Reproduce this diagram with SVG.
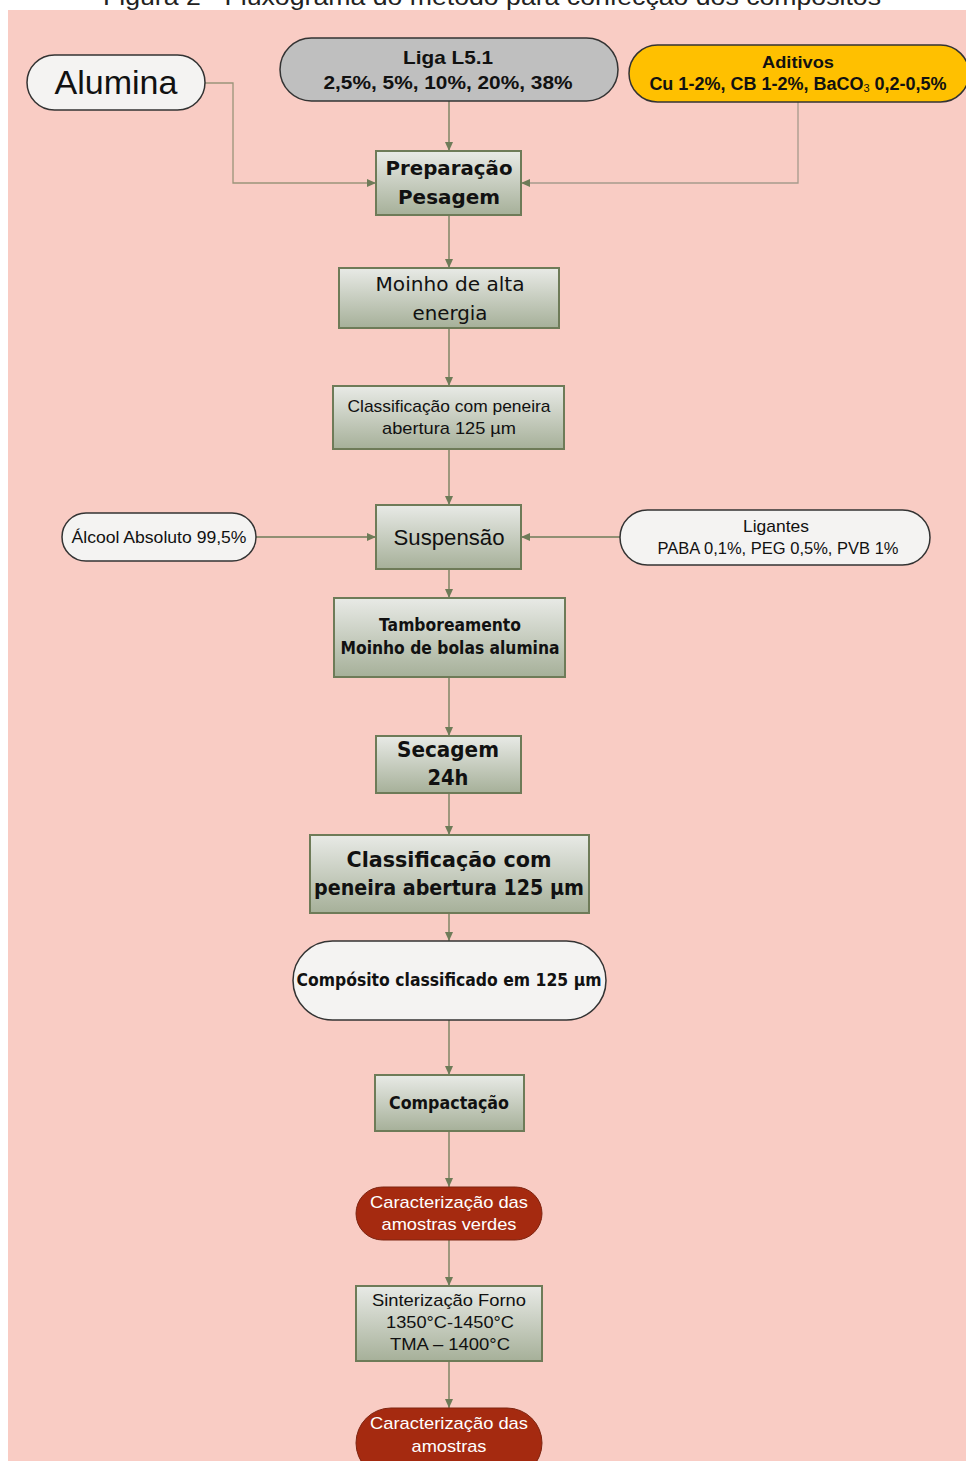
<svg xmlns="http://www.w3.org/2000/svg" width="966" height="1461" viewBox="0 0 966 1461">
<defs>
<style>
.bg{fill:#F9CCC4}
.box{fill:url(#g);stroke:#6E7B58;stroke-width:2}
.pill{fill:#F4F3F2;stroke:#333;stroke-width:1.5}
.red{fill:#A52A10;stroke:#7E2410;stroke-width:1}
.t{font-family:"Liberation Sans",Arial,sans-serif;fill:#111;text-anchor:middle;dominant-baseline:central}
.n{font-family:"Liberation Sans Narrow","Liberation Sans",Arial,sans-serif}
.v{font-family:"DejaVu Sans",Verdana,sans-serif}
.b{font-weight:bold}
.w{fill:#fff}
.c{fill:none;stroke:#6E7B58;stroke-width:1.3}
</style>
<linearGradient id="g" x1="0" y1="0" x2="0" y2="1">
<stop offset="0" stop-color="#E8EAE6"/>
<stop offset="1" stop-color="#A6B099"/>
</linearGradient>
<marker id="a" markerWidth="10" markerHeight="10" refX="9" refY="5" orient="auto" markerUnits="userSpaceOnUse">
<path d="M0,1 L9,5 L0,9 Z" fill="#6E7B58"/>
</marker>
</defs>
<rect x="0" y="0" width="966" height="1461" fill="#fff"/>
<text class="t" x="492" y="5" style="dominant-baseline:alphabetic;font-size:24px;fill:#222" textLength="778" lengthAdjust="spacingAndGlyphs">Figura 2 - Fluxograma do método para confecção dos compósitos</text>
<rect class="bg" x="8" y="10" width="958" height="1451"/>

<g id="connectors">
<path class="c" d="M205,83 H233 V183 H376" style="stroke:#9A9479" marker-end="url(#a)"/>
<path class="c" d="M449,101 V151" marker-end="url(#a)"/>
<path class="c" d="M798,101 V183 H521" style="stroke:#A69A8C" marker-end="url(#a)"/>
<path class="c" d="M449,215 V268" marker-end="url(#a)"/>
<path class="c" d="M449,328 V386" marker-end="url(#a)"/>
<path class="c" d="M449,449 V505" marker-end="url(#a)"/>
<path class="c" d="M256,537 H376" marker-end="url(#a)"/>
<path class="c" d="M620,537 H521" marker-end="url(#a)"/>
<path class="c" d="M449,569 V598" marker-end="url(#a)"/>
<path class="c" d="M449,677 V736" marker-end="url(#a)"/>
<path class="c" d="M449,793 V835" marker-end="url(#a)"/>
<path class="c" d="M449,913 V941" marker-end="url(#a)"/>
<path class="c" d="M449,1020 V1075" marker-end="url(#a)"/>
<path class="c" d="M449,1131 V1187" marker-end="url(#a)"/>
<path class="c" d="M449,1240 V1286" marker-end="url(#a)"/>
<path class="c" d="M449,1361 V1408" marker-end="url(#a)"/>
</g>

<g id="alumina">
<rect class="pill" x="27" y="55" width="178" height="55" rx="27.5"/>
<text class="t" x="116" y="82" style="font-size:33px" textLength="123" lengthAdjust="spacingAndGlyphs">Alumina</text>
</g>
<g id="liga">
<rect x="280" y="38" width="338" height="63" rx="31.5" fill="#BFBFBF" stroke="#333" stroke-width="1.5"/>
<text class="t n b" x="448" y="57" style="font-size:19px" textLength="90" lengthAdjust="spacingAndGlyphs">Liga L5.1</text>
<text class="t n b" x="448" y="82" style="font-size:19px" textLength="249" lengthAdjust="spacingAndGlyphs">2,5%, 5%, 10%, 20%, 38%</text>
</g>
<g id="aditivos">
<rect x="629" y="45" width="340" height="57" rx="28.5" fill="#FFC000" stroke="#333" stroke-width="1.5"/>
<text class="t b" x="798" y="62" style="font-size:17px" textLength="72" lengthAdjust="spacingAndGlyphs">Aditivos</text>
<text class="t b" x="798" y="84" style="font-size:18px">Cu 1-2%, CB 1-2%, BaCO<tspan style="font-size:11px;font-weight:normal" dy="4">3</tspan><tspan dy="-4"> 0,2-0,5%</tspan></text>
</g>
<g id="preparacao">
<rect class="box" x="376" y="151" width="145" height="64"/>
<text class="t v b" x="449" y="168" style="font-size:20px" textLength="127" lengthAdjust="spacingAndGlyphs">Preparação</text>
<text class="t v b" x="449" y="197" style="font-size:20px" textLength="102" lengthAdjust="spacingAndGlyphs">Pesagem</text>
</g>
<g id="moinho">
<rect class="box" x="339" y="268" width="220" height="60"/>
<text class="t v" x="450" y="284" style="font-size:19px" textLength="149" lengthAdjust="spacingAndGlyphs">Moinho de alta</text>
<text class="t v" x="450" y="313" style="font-size:19px" textLength="75" lengthAdjust="spacingAndGlyphs">energia</text>
</g>
<g id="classificacao1">
<rect class="box" x="333" y="386" width="231" height="63"/>
<text class="t n" x="449" y="406" style="font-size:17px" textLength="203" lengthAdjust="spacingAndGlyphs">Classificação com peneira</text>
<text class="t n" x="449" y="428" style="font-size:17px" textLength="134" lengthAdjust="spacingAndGlyphs">abertura 125 µm</text>
</g>
<g id="suspensao">
<rect class="box" x="376" y="505" width="145" height="64"/>
<text class="t" x="449" y="537" style="font-size:22px" textLength="111" lengthAdjust="spacingAndGlyphs">Suspensão</text>
</g>
<g id="alcool">
<rect class="pill" x="62" y="513" width="194" height="48" rx="24"/>
<text class="t n" x="159" y="537" style="font-size:17px" textLength="175" lengthAdjust="spacingAndGlyphs">Álcool Absoluto 99,5%</text>
</g>
<g id="ligantes">
<rect class="pill" x="620" y="510" width="310" height="55" rx="27.5"/>
<text class="t n" x="776" y="526" style="font-size:17px" textLength="66" lengthAdjust="spacingAndGlyphs">Ligantes</text>
<text class="t n" x="778" y="548" style="font-size:17px" textLength="241" lengthAdjust="spacingAndGlyphs">PABA 0,1%, PEG 0,5%, PVB 1%</text>
</g>
<g id="tamboreamento">
<rect class="box" x="334" y="598" width="231" height="79"/>
<text class="t v b" x="450" y="625" style="font-size:17px" textLength="142" lengthAdjust="spacingAndGlyphs">Tamboreamento</text>
<text class="t v b" x="450" y="648" style="font-size:17px" textLength="219" lengthAdjust="spacingAndGlyphs">Moinho de bolas alumina</text>
</g>
<g id="secagem">
<rect class="box" x="376" y="736" width="145" height="57"/>
<text class="t v b" x="448" y="750" style="font-size:21px" textLength="102" lengthAdjust="spacingAndGlyphs">Secagem</text>
<text class="t v b" x="448" y="778" style="font-size:21px" textLength="41" lengthAdjust="spacingAndGlyphs">24h</text>
</g>
<g id="classificacao2">
<rect class="box" x="310" y="835" width="279" height="78"/>
<text class="t v b" x="449" y="860" style="font-size:21px" textLength="205" lengthAdjust="spacingAndGlyphs">Classificação com</text>
<text class="t v b" x="449" y="888" style="font-size:21px" textLength="270" lengthAdjust="spacingAndGlyphs">peneira abertura 125 µm</text>
</g>
<g id="composito">
<rect class="pill" x="293" y="941" width="313" height="79" rx="39.5"/>
<text class="t v b" x="449" y="980" style="font-size:17px" textLength="305" lengthAdjust="spacingAndGlyphs">Compósito classificado em 125 µm</text>
</g>
<g id="compactacao">
<rect class="box" x="375" y="1075" width="149" height="56"/>
<text class="t v b" x="449" y="1103" style="font-size:17px" textLength="120" lengthAdjust="spacingAndGlyphs">Compactação</text>
</g>
<g id="caracterizacao1">
<rect class="red" x="356" y="1187" width="186" height="53" rx="26.5"/>
<text class="t w" x="449" y="1202" style="font-size:17px" textLength="158" lengthAdjust="spacingAndGlyphs">Caracterização das</text>
<text class="t w" x="449" y="1224" style="font-size:17px" textLength="135" lengthAdjust="spacingAndGlyphs">amostras verdes</text>
</g>
<g id="sinterizacao">
<rect class="box" x="356" y="1286" width="186" height="75"/>
<text class="t" x="449" y="1300" style="font-size:17px" textLength="154" lengthAdjust="spacingAndGlyphs">Sinterização Forno</text>
<text class="t" x="450" y="1322" style="font-size:17px" textLength="128" lengthAdjust="spacingAndGlyphs">1350°C-1450°C</text>
<text class="t" x="450" y="1344" style="font-size:17px" textLength="120" lengthAdjust="spacingAndGlyphs">TMA – 1400°C</text>
</g>
<g id="caracterizacao2">
<rect class="red" x="356" y="1408" width="186" height="70" rx="35"/>
<text class="t w" x="449" y="1423" style="font-size:17px" textLength="158" lengthAdjust="spacingAndGlyphs">Caracterização das</text>
<text class="t w" x="449" y="1446" style="font-size:17px" textLength="75" lengthAdjust="spacingAndGlyphs">amostras</text>
</g>
</svg>
